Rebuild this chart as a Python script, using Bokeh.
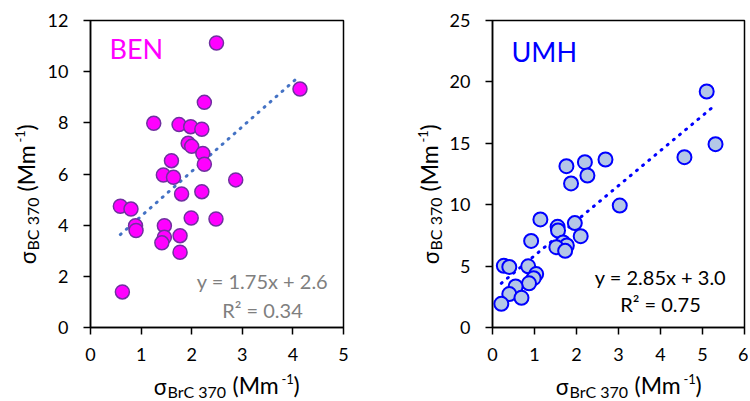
import math
from bokeh.plotting import figure
from bokeh.layouts import row, column
from bokeh.models import Range1d, FixedTicker, Label
from bokeh.embed import file_html
from bokeh.resources import INLINE

# ---------------- data ----------------
ben_x = [2.49, 4.14, 2.25, 1.25, 1.75, 1.98, 2.20, 1.93, 2.00, 2.22, 2.25, 1.60, 1.44, 1.64, 2.87,
         1.80, 2.20, 0.59, 0.80, 0.89, 0.90, 1.46, 1.46, 1.41, 1.77, 1.77, 1.99, 2.48, 0.63]
ben_y = [11.12, 9.32, 8.80, 7.98, 7.93, 7.85, 7.75, 7.20, 7.08, 6.80, 6.38, 6.52, 5.96, 5.87, 5.77,
         5.22, 5.31, 4.74, 4.63, 3.98, 3.79, 3.98, 3.53, 3.31, 3.59, 2.94, 4.28, 4.24, 1.39]
ben_fit = [1.75, 2.6, 0.34]          # slope, intercept, R^2

umh_x = [5.10, 5.31, 4.57, 1.76, 2.20, 2.69, 1.87, 2.26, 3.03, 1.14, 1.55, 1.56, 1.96, 2.10, 0.92,
         1.68, 1.77, 1.52, 1.73, 0.27, 0.40, 0.85, 1.04, 0.98, 0.87, 0.55, 0.40, 0.69, 0.21]
umh_y = [19.22, 14.93, 13.87, 13.14, 13.46, 13.68, 11.73, 12.38, 9.93, 8.80, 8.20, 7.90, 8.50, 7.44, 7.05,
         6.92, 6.68, 6.54, 6.24, 5.02, 4.93, 4.98, 4.35, 4.02, 3.60, 3.34, 2.72, 2.42, 1.93]
umh_fit = [2.85, 3.0, 0.75]

ben_xticks = [0, 1, 2, 3, 4, 5]
ben_yticks = [0, 2, 4, 6, 8, 10, 12]
umh_xticks = [0, 1, 2, 3, 4, 5, 6]
umh_yticks = [0, 5, 10, 15, 20, 25]

FONT = "Lato"
GREEK = "Noto Sans"
PH = 369      # height of the plot figures (frame: page y 20..327)
XH = 32       # height of the x-title strips
K = 0.35      # offset between Bokeh's label anchor and the drawn baseline (fraction of font size)


def make_fig(width, ml, mr, xticks, yticks):
    p = figure(width=width, height=PH,
               x_range=Range1d(xticks[0], xticks[-1]), y_range=Range1d(yticks[0], yticks[-1]),
               output_backend="svg", toolbar_location=None,
               min_border_left=ml, min_border_right=mr, min_border_top=20, min_border_bottom=PH - 327)
    p.grid.visible = False
    p.background_fill_color = "white"
    p.border_fill_color = "white"
    p.outline_line_color = "black"
    p.outline_line_width = 1.5
    p.xaxis.ticker = FixedTicker(ticks=xticks)
    p.yaxis.ticker = FixedTicker(ticks=yticks)
    for ax in (p.xaxis[0], p.yaxis[0]):
        ax.axis_line_color = "black"
        ax.axis_line_width = 1.5
        ax.major_tick_line_color = "black"
        ax.major_tick_line_width = 1.5
        ax.major_tick_out = 7
        ax.major_tick_in = 0
        ax.minor_tick_line_color = None
        ax.major_label_text_font = FONT
        ax.major_label_text_font_size = "18px"
        ax.major_label_text_color = "black"
    p.xaxis.major_label_standoff = 13
    p.yaxis.major_label_standoff = 15
    return p


def blank_fig(width, height):
    p = figure(width=width, height=height, output_backend="svg", toolbar_location=None,
               x_axis_location=None, y_axis_location=None, min_border=0,
               x_range=Range1d(0, 1), y_range=Range1d(0, 1))
    p.grid.visible = False
    p.outline_line_color = None
    p.background_fill_color = "white"
    p.border_fill_color = "white"
    return p


def lab(p, text, x, base, size, font=FONT, color="black", align="left", rotated=False):
    """Place a text whose baseline is at `base` (screen units from the frame's bottom/left)."""
    px = float(size.replace("px", ""))
    if rotated:
        x, y, angle = base - K * px, x, math.pi / 2
    else:
        x, y, angle = x, base + K * px, 0.0
    p.add_layout(Label(x=x, y=y, x_units="screen", y_units="screen", text=text,
                       text_font=font, text_font_size=size, text_color=color,
                       text_align=align, text_baseline="alphabetic", angle=angle))


GSZ, MAIN, SUB, SUP = "22px", "23px", "16px", "13px"


def title_pieces(p, s0, base, rotated, sub_text):
    # along-text start s0; baseline `base`; "down" direction is -y (horizontal) or +x (rotated)
    down = 1 if rotated else -1
    lab(p, "σ", s0, base, GSZ, font=GREEK, rotated=rotated)
    lab(p, sub_text, s0 + 14, base + down * 4, SUB, rotated=rotated)
    w = 58 if sub_text.startswith("BrC") else 52
    lab(p, "(Mm", s0 + 21 + w, base, MAIN, rotated=rotated)
    lab(p, "-1", s0 + 70 + w, base - down * 10, SUP, rotated=rotated)
    lab(p, ")", s0 + 82 + w, base, MAIN, rotated=rotated)


# ---------------- BEN ----------------
p1 = make_fig(331, 44, 32, ben_xticks, ben_yticks)
bx0, bx1 = min(ben_x), max(ben_x)
p1.line([bx0, bx1], [ben_fit[0] * bx0 + ben_fit[1], ben_fit[0] * bx1 + ben_fit[1]],
        line_color="#4472C4", line_width=3, line_dash="1 7", line_cap="round")
p1.scatter(ben_x, ben_y, size=14, fill_color="#FF00FF", line_color="#7030A0", line_width=1.5)
lab(p1, "BEN", 19, 270, "27px", color="#FF00FF")
lab(p1, f"y = {ben_fit[0]:.2f}x + {ben_fit[1]:.1f}", 172, 40, "20px", color="#7F7F7F", align="center")
lab(p1, f"R² = {ben_fit[2]:.2f}", 172, 11, "20px", color="#7F7F7F", align="center")

yl1 = blank_fig(44, PH)            # its frame is aligned with p1's frame (page y 20..327)
title_pieces(yl1, 63, 34, True, "BC 370")
xl1 = blank_fig(375, XH)
title_pieces(xl1, 153, 8, False, "BrC 370")

# ---------------- UMH ----------------
p2 = make_fig(302, 44, 4, umh_xticks, umh_yticks)
ux0, ux1 = min(umh_x), max(umh_x)
p2.line([ux0, ux1], [umh_fit[0] * ux0 + umh_fit[1], umh_fit[0] * ux1 + umh_fit[1]],
        line_color="#0000FF", line_width=3, line_dash="1 7", line_cap="round")
p2.scatter(umh_x, umh_y, size=14, fill_color="#B4C7E7", line_color="#0000FF", line_width=2)
lab(p2, "UMH", 19, 267, "27px", color="#0000FF")
lab(p2, f"y = {umh_fit[0]:.2f}x + {umh_fit[1]:.1f}", 168, 44, "20px", color="black", align="center")
lab(p2, f"R² = {umh_fit[2]:.2f}", 168, 17, "20px", color="black", align="center")

yl2 = blank_fig(71, PH)
title_pieces(yl2, 63, 62, True, "BC 370")
xl2 = blank_fig(373, XH)
title_pieces(xl2, 180, 8, False, "BrC 370")

layout = row(column(row(yl1, p1), xl1), column(row(yl2, p2), xl2))
open("out.html", "w").write(file_html(layout, INLINE))
